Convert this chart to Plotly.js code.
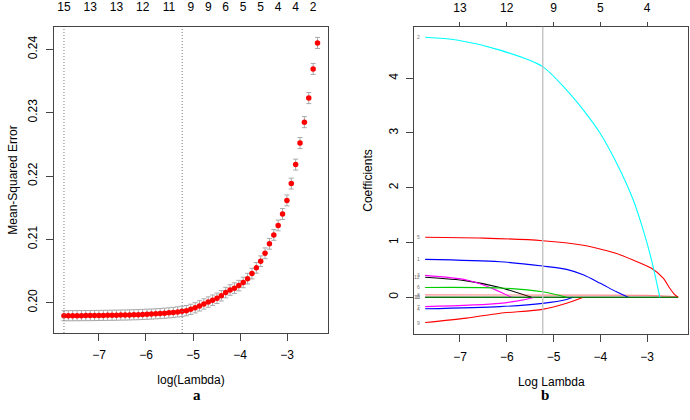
<!DOCTYPE html>
<html>
<head>
<meta charset="utf-8">
<script src="https://cdn.plot.ly/plotly-3.0.1.min.js"></script>
<style>html,body{margin:0;padding:0;background:#fff;}#chart{width:690px;height:420px;}</style>
</head>
<body>
<div id="chart"></div>
<script>
// ---- Panel a: cross-validated MSE ----
const logLambda = [-7.745,-7.652,-7.559,-7.466,-7.373,-7.280,-7.187,-7.094,-7.001,-6.908,
  -6.815,-6.722,-6.629,-6.536,-6.443,-6.350,-6.257,-6.164,-6.071,-5.978,
  -5.885,-5.792,-5.699,-5.606,-5.513,-5.420,-5.327,-5.234,-5.141,-5.048,
  -4.955,-4.862,-4.769,-4.676,-4.583,-4.490,-4.397,-4.304,-4.211,-4.118,
  -4.025,-3.932,-3.839,-3.746,-3.653,-3.560,-3.467,-3.374,-3.281,-3.188,
  -3.095,-3.002,-2.909,-2.816,-2.723,-2.630,-2.537,-2.444,-2.351];
const mse = [0.19795,0.19795,0.19795,0.19796,0.19796,0.19797,0.19797,0.19798,0.19799,0.19800,
  0.19801,0.19802,0.19803,0.19805,0.19806,0.19808,0.19810,0.19812,0.19815,0.19818,
  0.19821,0.19825,0.19829,0.19834,0.19840,0.19847,0.19855,0.19864,0.19875,0.19895,
  0.19920,0.19950,0.19980,0.20010,0.20040,0.20070,0.20110,0.20160,0.20200,0.20230,
  0.20270,0.20320,0.20380,0.20460,0.20550,0.20655,0.20780,0.20930,0.21070,0.21220,
  0.21400,0.21615,0.21880,0.22180,0.22520,0.22850,0.23230,0.23690,0.24100];
const mseSE = [0.00080,0.00080,0.00080,0.00080,0.00080,0.00080,0.00080,0.00080,0.00080,0.00080,
  0.00080,0.00080,0.00080,0.00080,0.00080,0.00080,0.00080,0.00080,0.00080,0.00080,
  0.00080,0.00080,0.00080,0.00080,0.00080,0.00080,0.00080,0.00081,0.00081,0.00081,
  0.00081,0.00081,0.00082,0.00082,0.00082,0.00082,0.00082,0.00083,0.00083,0.00083,
  0.00083,0.00083,0.00084,0.00084,0.00084,0.00084,0.00085,0.00085,0.00085,0.00085,
  0.00086,0.00086,0.00086,0.00086,0.00087,0.00087,0.00087,0.00087,0.00088];
const lambdaMin = -7.745;
const lambda1se = -5.23;
const dfTopVals = [-7.745,-7.187,-6.629,-6.071,-5.513,-5.048,-4.676,-4.304,-3.932,-3.560,-3.188,-2.816,-2.444];
const dfTopText = ["15","13","13","12","11","9","9","6","5","5","4","4","2"];
const xTicks = [-7,-6,-5,-4,-3];
const mseTicks = [0.20,0.21,0.22,0.23,0.24];

// ---- Panel b: coefficient paths ----
const cyanX = [-7.745,-7.07,-6.145,-5.233,-4.72,-4.365,-4.0,-3.652,-3.297,-3.083,-2.904,-2.726];
const cyanY = [4.745,4.695,4.51,4.21,3.78,3.42,2.99,2.45,1.78,1.23,0.68,0];
const redX = [-7.745,-6.5,-5.233,-4.365,-4.0,-3.652,-3.3,-2.904,-2.654,-2.51,-2.42,-2.335];
const redY = [1.095,1.08,1.033,0.95,0.88,0.80,0.68,0.53,0.35,0.16,0.06,0];
const blueX = [-7.745,-6.145,-5.233,-4.72,-4.365,-4.0,-3.652,-3.40];
const blueY = [0.693,0.65,0.57,0.51,0.41,0.255,0.10,0];
const magX = [-7.745,-6.857,-6.359,-5.895];
const magY = [0.40,0.316,0.18,0];
const blackX = [-7.745,-6.857,-6.145,-5.47];
const blackY = [0.365,0.30,0.18,0];
const greenX = [-7.745,-6.145,-5.233,-4.72];
const greenY = [0.18,0.17,0.10,0];
const pinkX = [-7.745,-5.0,-3.0,-2.5,-2.335];
const pinkY = [0.045,0.04,0.035,0.02,0];
const zeroX = [-7.745,-2.335];
const zeroY = [0,0];
const mag2X = [-7.745,-6.145,-5.6,-5.40];
const mag2Y = [-0.17,-0.11,-0.04,0];
const blue2X = [-7.745,-6.145,-5.233,-4.72,-4.58];
const blue2Y = [-0.21,-0.17,-0.11,-0.04,0];
const red2X = [-7.745,-6.857,-6.145,-5.233,-4.72,-4.365];
const red2Y = [-0.46,-0.38,-0.29,-0.22,-0.11,0];
const coefTopVals = [-7,-6,-5,-4,-3];
const coefTopText = ["13","12","9","5","4"];
const coefTicks = [0,1,2,3,4];

const paths = [
  {x: zeroX, y: zeroY, c: "#000000", lab: "10"},
  {x: blackX, y: blackY, c: "#000000", lab: "12"},
  {x: redX, y: redY, c: "#FF0000", lab: "5"},
  {x: pinkX, y: pinkY, c: "rgba(255,0,0,0.45)", lab: "8"},
  {x: red2X, y: red2Y, c: "#FF0000", lab: "9"},
  {x: blueX, y: blueY, c: "#0000FF", lab: "1"},
  {x: blue2X, y: blue2Y, c: "#0000FF", lab: "4"},
  {x: magX, y: magY, c: "#FF00FF", lab: "3"},
  {x: mag2X, y: mag2Y, c: "#FF00FF", lab: "7"},
  {x: greenX, y: greenY, c: "#00CD00", lab: "6"},
  {x: zeroX, y: zeroY, c: "#008B00", lab: "11"},
  {x: cyanX, y: cyanY, c: "#00FFFF", lab: "2"}
];

const FONT = "Liberation Sans, Arial, sans-serif";
const AX = "#444";

const traces = [{
  type: "scatter", mode: "markers", x: logLambda, y: mse,
  xaxis: "x", yaxis: "y",
  marker: {color: "#FF0000", size: 5.5},
  error_y: {type: "data", array: mseSE, visible: true, color: "#A9A9A9", thickness: 1, width: 2.5},
  showlegend: false, hoverinfo: "skip"
}];
paths.forEach(p => traces.push({
  type: "scatter", mode: "lines", x: p.x, y: p.y, xaxis: "x2", yaxis: "y2",
  line: {color: p.c, width: 1.1, shape: "spline", smoothing: 0.8},
  showlegend: false, hoverinfo: "skip"
}));
// invisible traces to activate top axes
traces.push({type: "scatter", mode: "markers", x: [logLambda[0]], y: [mse[0]], xaxis: "x3", yaxis: "y", marker: {opacity: 0}, showlegend: false, hoverinfo: "skip"});
traces.push({type: "scatter", mode: "markers", x: [cyanX[0]], y: [cyanY[0]], xaxis: "x4", yaxis: "y2", marker: {opacity: 0}, showlegend: false, hoverinfo: "skip"});

const tickFont = {family: FONT, size: 12, color: "#000"};
const baseAxis = {showgrid: false, zeroline: false, showline: true, linecolor: AX, linewidth: 1,
  ticks: "outside", ticklen: 7, tickcolor: AX, tickfont: tickFont};

const annotations = [
  {text: "<b>a</b>", x: 191/690, y: 1 - 405/420, xref: "paper", yref: "paper", showarrow: false,
   font: {family: "Liberation Serif, Times New Roman, serif", size: 15, color: "#000"}},
  {text: "<b>b</b>", x: 551/690, y: 1 - 405/420, xref: "paper", yref: "paper", showarrow: false,
   font: {family: "Liberation Serif, Times New Roman, serif", size: 15, color: "#000"}}
];
paths.forEach(p => annotations.push({
  text: p.lab, x: p.x[0], y: p.y[0], xref: "x2", yref: "y2", showarrow: false,
  xanchor: "right", xshift: -3, font: {family: FONT, size: 5, color: "#777"}
}));

const layout = {
  width: 690, height: 420,
  margin: {l: 0, r: 0, t: 0, b: 0},
  paper_bgcolor: "#fff", plot_bgcolor: "#fff",
  font: {family: FONT, size: 12, color: "#000"},
  xaxis: Object.assign({}, baseAxis, {
    domain: [54/690, 328/690], anchor: "y", range: [-7.957, -2.128],
    tickvals: xTicks, mirror: true, ticklabelstandoff: 4,
    title: {text: "log(Lambda)", font: {family: FONT, size: 12}, standoff: 14}
  }),
  yaxis: Object.assign({}, baseAxis, {
    domain: [1 - 333/420, 1 - 27/420], anchor: "x", range: [0.19522, 0.24352],
    tickvals: mseTicks, tickformat: ".2f", tickangle: -90, mirror: true, ticklabelstandoff: 4,
    title: {text: "Mean-Squared Error", font: {family: FONT, size: 12}, standoff: 6}
  }),
  xaxis3: {
    overlaying: "x", side: "top", anchor: "y", range: [-7.957, -2.128],
    tickvals: dfTopVals, ticktext: dfTopText, ticks: "", showline: false, showgrid: false,
    zeroline: false, tickfont: tickFont, ticklabelstandoff: 13
  },
  xaxis2: Object.assign({}, baseAxis, {
    domain: [414.3/690, 688.3/690], anchor: "y2", range: [-7.977, -2.118],
    tickvals: xTicks, mirror: true, ticklabelstandoff: 4,
    title: {text: "Log Lambda", font: {family: FONT, size: 12}, standoff: 14}
  }),
  yaxis2: Object.assign({}, baseAxis, {
    domain: [1 - 334.3/420, 1 - 26.7/420], anchor: "x2", range: [-0.675, 4.938],
    tickvals: coefTicks, tickangle: -90, mirror: true, ticklabelstandoff: 4,
    title: {text: "Coefficients", font: {family: FONT, size: 12}, standoff: 11}
  }),
  xaxis4: {
    overlaying: "x2", side: "top", anchor: "y2", range: [-7.977, -2.118],
    tickvals: coefTopVals, ticktext: coefTopText, ticks: "outside", ticklen: 4, tickcolor: AX,
    showline: false, showgrid: false, zeroline: false, tickfont: tickFont, ticklabelstandoff: 5
  },
  shapes: [
    {type: "line", xref: "x", yref: "y domain", x0: lambdaMin, x1: lambdaMin, y0: 0, y1: 1,
     line: {color: "#777", width: 1, dash: "1px,2px"}},
    {type: "line", xref: "x", yref: "y domain", x0: lambda1se, x1: lambda1se, y0: 0, y1: 1,
     line: {color: "#777", width: 1, dash: "1px,2px"}},
    {type: "line", xref: "x2", yref: "y2 domain", x0: lambda1se, x1: lambda1se, y0: 0, y1: 1,
     line: {color: "#BEBEBE", width: 1.3}}
  ],
  annotations: annotations
};

Plotly.newPlot("chart", traces, layout, {displayModeBar: false, staticPlot: true});
</script>
</body>
</html>
